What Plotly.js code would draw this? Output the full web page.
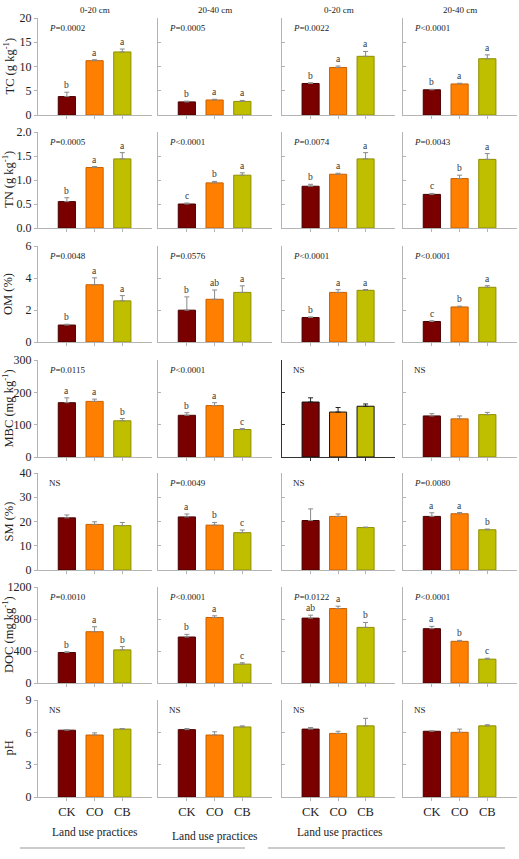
<!DOCTYPE html>
<html>
<head>
<meta charset="utf-8">
<script src="https://cdn.plot.ly/plotly-3.0.1.min.js"></script>
<style>
  html, body { margin: 0; padding: 0; background: #fff; }
  #chart { width: 519px; height: 859px; }
</style>
</head>
<body>
<div id="chart"></div>
<script>
// Treatments (x categories) and their colours
const treatments = ['CK', 'CO', 'CB'];
const barColors = ['#7a0000', '#ff8000', '#bfbf00'];
const barEdges = ['#4a0000', '#c86000', '#8f8f00'];

// Panel headers: two sites x two soil depths
const depthLabels = ['0-20 cm', '20-40 cm', '0-20 cm', '20-40 cm'];

// Total carbon (g kg-1): one row per panel (CK, CO, CB)
const tcMean = [[3.8, 11.2, 13.0], [2.7, 3.1, 2.8], [6.5, 9.8, 12.1], [5.2, 6.4, 11.6]];
const tcErr = [[0.9, 0.2, 0.6], [0.15, 0.15, 0.2], [0.15, 0.3, 1.0], [0.1, 0.15, 0.8]];
const tcLetters = [['b', 'a', 'a'], ['b', 'a', 'a'], ['b', 'a', 'a'], ['b', 'a', 'a']];
const tcP = ['<i>P</i>=0.0002', '<i>P</i>=0.0005', '<i>P</i>=0.0022', '<i>P</i><0.0001'];

// Total nitrogen (g kg-1)
const tnMean = [[0.55, 1.26, 1.44], [0.50, 0.94, 1.10], [0.87, 1.12, 1.44], [0.70, 1.03, 1.43]];
const tnErr = [[0.08, 0.02, 0.13], [0.02, 0.03, 0.05], [0.04, 0.02, 0.13], [0.02, 0.07, 0.12]];
const tnLetters = [['b', 'a', 'a'], ['c', 'b', 'a'], ['b', 'a', 'a'], ['c', 'b', 'a']];
const tnP = ['<i>P</i>=0.0005', '<i>P</i><0.0001', '<i>P</i>=0.0074', '<i>P</i>=0.0043'];

// Organic matter (%)
const omMean = [[1.06, 3.58, 2.57], [1.99, 2.67, 3.10], [1.53, 3.10, 3.23], [1.28, 2.19, 3.42]];
const omErr = [[0.05, 0.43, 0.33], [0.83, 0.58, 0.41], [0.04, 0.17, 0.05], [0.05, 0.05, 0.10]];
const omLetters = [['b', 'a', 'a'], ['b', 'ab', 'a'], ['b', 'a', 'a'], ['c', 'b', 'a']];
const omP = ['<i>P</i>=0.0048', '<i>P</i>=0.0576', '<i>P</i><0.0001', '<i>P</i><0.0001'];

// Microbial biomass carbon (mg kg-1)
const mbcMean = [[168, 172, 112], [129, 159, 85], [170, 139, 157], [127, 118, 131]];
const mbcErr = [[15, 7, 7], [8, 9, 3], [13, 14, 7], [7, 9, 7]];
const mbcLetters = [['a', 'a', 'b'], ['b', 'a', 'c'], ['', '', ''], ['', '', '']];
const mbcP = ['<i>P</i>=0.0115', '<i>P</i><0.0001', 'NS', 'NS'];

// Soil moisture (%)
const smMean = [[21.5, 18.8, 18.3], [21.9, 18.5, 15.4], [20.4, 22.1, 17.5], [22.1, 23.2, 16.6]];
const smErr = [[1.2, 1.1, 1.3], [1.2, 1.1, 1.1], [4.8, 1.0, 0.2], [1.5, 0.5, 0.3]];
const smLetters = [['', '', ''], ['a', 'b', 'c'], ['', '', ''], ['a', 'a', 'b']];
const smP = ['NS', '<i>P</i>=0.0049', 'NS', '<i>P</i>=0.0080'];

// Dissolved organic carbon (mg kg-1)
const docMean = [[381, 641, 414], [575, 819, 236], [811, 931, 695], [679, 521, 298]];
const docErr = [[10, 62, 41], [33, 21, 17], [37, 29, 62], [29, 12, 12]];
const docLetters = [['b', 'a', 'b'], ['b', 'a', 'c'], ['ab', 'a', 'b'], ['a', 'b', 'c']];
const docP = ['<i>P</i>=0.0010', '<i>P</i><0.0001', '<i>P</i>=0.0122', '<i>P</i><0.0001'];

// Soil pH
const phMean = [[6.2, 5.75, 6.3], [6.25, 5.75, 6.5], [6.3, 5.9, 6.6], [6.1, 6.0, 6.6]];
const phErr = [[0.05, 0.2, 0.05], [0.1, 0.3, 0.1], [0.15, 0.2, 0.7], [0.05, 0.3, 0.1]];
const phLetters = [['', '', ''], ['', '', ''], ['', '', ''], ['', '', '']];
const phP = ['NS', 'NS', 'NS', 'NS'];

// Y-axis titles and tick values for each variable
const yTitles = ['TC (g kg<sup>-1</sup>)', 'TN (g kg<sup>-1</sup>)', 'OM (%)',
  'MBC (mg kg<sup>-1</sup>)', 'SM (%)', 'DOC (mg kg<sup>-1</sup>)', 'pH'];
const yTicks = [[0, 5, 10, 15, 20], [0, 0.5, 1.0, 1.5, 2.0], [0, 2, 4, 6],
  [0, 100, 200, 300], [0, 10, 20, 30, 40], [0, 400, 800, 1200], [0, 3, 6, 9]];
const yTickText = [['0', '5', '10', '15', '20'], ['0.0', '0.5', '1.0', '1.5', '2.0'],
  ['0', '2', '4', '6'], ['0', '100', '200', '300'], ['0', '10', '20', '30', '40'],
  ['0', '400', '800', '1200'], ['0', '3', '6', '9']];
const xTitle = 'Land use practices';

const rows = [
  { mean: tcMean, err: tcErr, letters: tcLetters, p: tcP },
  { mean: tnMean, err: tnErr, letters: tnLetters, p: tnP },
  { mean: omMean, err: omErr, letters: omLetters, p: omP },
  { mean: mbcMean, err: mbcErr, letters: mbcLetters, p: mbcP },
  { mean: smMean, err: smErr, letters: smLetters, p: smP },
  { mean: docMean, err: docErr, letters: docLetters, p: docP },
  { mean: phMean, err: phErr, letters: phLetters, p: phP }
];

// Grid geometry in pixels
const W = 519, H = 859;
const colPx = [[38, 152], [158, 272], [282, 395], [403, 517]];
const rowPx = [[18, 115], [132, 228], [246, 342], [360, 457], [473, 570], [587, 683], [700, 797]];
const px = v => v / W;
const py = v => 1 - v / H;

const serif = 'Liberation Serif, Times New Roman, serif';
const axisGray = '#b4b4b4';

const data = [];
const layout = {
  width: W, height: H,
  margin: { l: 0, r: 0, t: 0, b: 0 },
  paper_bgcolor: '#fff', plot_bgcolor: 'rgba(0,0,0,0)',
  showlegend: false,
  font: { family: serif, color: '#222', size: 12 },
  annotations: [],
  shapes: []
};

let n = 0;
rows.forEach((row, r) => {
  for (let c = 0; c < 4; c++) {
    n++;
    const xa = n === 1 ? 'xaxis' : 'xaxis' + n;
    const ya = n === 1 ? 'yaxis' : 'yaxis' + n;
    const xr = n === 1 ? 'x' : 'x' + n;
    const yr = n === 1 ? 'y' : 'y' + n;
    const ymax = yTicks[r][yTicks[r].length - 1];
    const darkPanel = (r === 3 && c === 2);
    const lineCol = darkPanel ? '#333' : axisGray;

    data.push({
      type: 'bar', x: treatments, y: row.mean[c], xaxis: xr, yaxis: yr,
      width: 0.62,
      marker: { color: barColors, line: { color: darkPanel ? ['#111', '#111', '#111'] : barEdges, width: 1 } },
      error_y: {
        type: 'data', symmetric: false, array: row.err[c], arrayminus: [0, 0, 0],
        color: darkPanel ? '#222' : '#8a8a8a', thickness: 1, width: 2.5
      },
      hoverinfo: 'skip'
    });

    layout[xa] = {
      domain: [px(colPx[c][0]), px(colPx[c][1])],
      anchor: yr, type: 'category', range: [-1.04, 3.07],
      showline: true, linecolor: lineCol, linewidth: 1,
      ticks: 'outside', ticklen: 3, tickcolor: lineCol,
      showgrid: false, zeroline: false,
      showticklabels: r === 6,
      tickfont: { family: serif, size: 12.5, color: '#222' }
    };
    layout[ya] = {
      domain: [py(rowPx[r][1]), py(rowPx[r][0])],
      anchor: xr, range: [0, ymax],
      tickvals: yTicks[r], ticktext: yTickText[r],
      showline: true, linecolor: lineCol, linewidth: 1,
      ticks: c === 0 ? 'outside' : 'inside', ticklen: 3, tickcolor: lineCol,
      showgrid: false, zeroline: false,
      showticklabels: c === 0,
      tickfont: { family: serif, size: 12, color: '#222' }
    };

    // Significance letters above each error bar
    for (let k = 0; k < 3; k++) {
      if (!row.letters[c][k]) continue;
      layout.annotations.push({
        xref: xr, yref: yr, x: treatments[k], y: row.mean[c][k] + row.err[c][k],
        text: row.letters[c][k], showarrow: false, yanchor: 'bottom', yshift: 0,
        font: { family: serif, size: 9.5, color: '#333' }
      });
    }
    // ANOVA P value / NS in the panel corner
    layout.annotations.push({
      xref: xr + ' domain', yref: yr + ' domain', x: 0.08, y: 0.97,
      xanchor: 'left', yanchor: 'top', text: row.p[c], showarrow: false,
      font: { family: serif, size: 9, color: '#222' }
    });
  }
  // Row y-axis title
  layout.annotations.push({
    xref: 'paper', yref: 'paper', x: px(8), y: py((rowPx[r][0] + rowPx[r][1]) / 2),
    text: yTitles[r], textangle: -90, showarrow: false,
    xanchor: 'center', yanchor: 'middle',
    font: { family: serif, size: 12.5, color: '#222' }
  });
});

// Depth headers above the first row
depthLabels.forEach((t, c) => {
  layout.annotations.push({
    xref: 'paper', yref: 'paper', x: px((colPx[c][0] + colPx[c][1]) / 2), y: py(10),
    text: t, showarrow: false, xanchor: 'center', yanchor: 'middle',
    font: { family: serif, size: 9, color: '#222' }
  });
});

// X-axis titles under the bottom row
[[95, 832], [215, 836], [340, 832]].forEach(p => {
  layout.annotations.push({
    xref: 'paper', yref: 'paper', x: px(p[0]), y: py(p[1]),
    text: xTitle, showarrow: false, xanchor: 'center', yanchor: 'middle',
    font: { family: serif, size: 11.5, color: '#222' }
  });
});

// Site brackets along the bottom edge
[[20, 245], [268, 505]].forEach(s => {
  layout.shapes.push({
    type: 'line', xref: 'paper', yref: 'paper',
    x0: px(s[0]), x1: px(s[1]), y0: py(848), y1: py(848),
    line: { color: '#999', width: 1 }
  });
});

Plotly.newPlot('chart', data, layout, { staticPlot: true, displayModeBar: false });
</script>
</body>
</html>
